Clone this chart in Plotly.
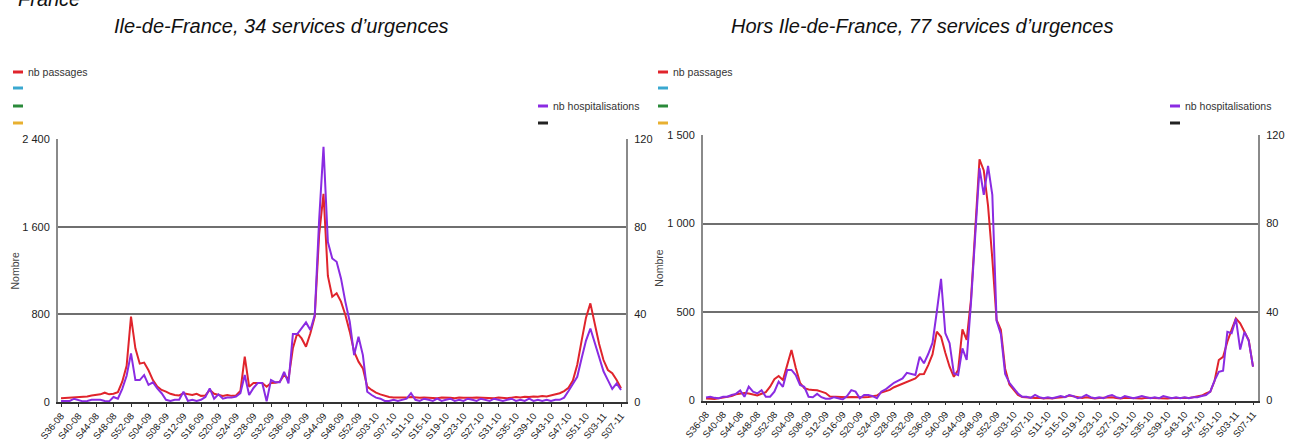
import plotly.graph_objects as go

# ---------------- data ----------------
# weekly categories S36-08 ... S07-11 (2009 has 53 ISO weeks)
weeks = []
for yy, first, last in [(8, 36, 52), (9, 1, 53), (10, 1, 52), (11, 1, 7)]:
    for w in range(first, last + 1):
        weeks.append(f"S{w:02d}-{yy:02d}")

tick_weeks = weeks[::4]

# Ile-de-France, 34 services d'urgences
idf_passages = [
    35, 38, 42, 45, 45, 48, 50, 60, 65, 70,
    85, 70, 75, 90, 185, 330, 780, 490, 350, 360,
    290, 200, 140, 110, 95, 75, 64, 60, 80, 70,
    64, 75, 56, 60, 110, 75, 64, 56, 64, 56,
    60, 100, 415, 140, 173, 173, 173, 140, 173, 175,
    185, 246, 210, 490, 627, 580, 505, 627, 780, 1525,
    1900, 1150, 961, 992, 916, 794, 642, 459, 368, 307,
    140, 110, 85, 70, 55, 45, 42, 40, 38, 40,
    45, 40, 38, 42, 40, 38, 35, 40, 42, 38,
    35, 40, 38, 35, 38, 42, 40, 35, 38, 35,
    40, 38, 35, 40, 45, 42, 48, 45, 50, 48,
    55, 50, 60, 65, 80, 100, 130, 195, 340, 560,
    770, 900, 710, 530, 383, 292, 262, 200, 125,
]
idf_hosp = [
    0.5, 0.5, 0.5, 1.5, 0.8, 0.3, 0.5, 1, 1, 1,
    0.5, 0.3, 2.3, 1.5, 6, 12, 22.2, 10, 10, 12.3,
    7.8, 9, 6.2, 4, 1, 0.5, 1, 1, 4.7, 0.5,
    1, 0.5, 1, 2.3, 6.2, 1.5, 3.5, 1.5, 2, 2,
    2.5, 4, 12.3, 3.2, 6.4, 8.7, 8.7, 0.3, 10, 9,
    9, 13.8, 8.5, 31, 31, 33.6, 36.3, 32.8, 39.7, 83,
    116.4, 73, 65.5, 64, 56.4, 45.7, 36.6, 21.4, 29.8, 21.4,
    4.7, 3.2, 2, 1.5, 0.5, 0.5, 1, 0.5, 1, 1.5,
    4, 1, 0.5, 1.5, 1, 0.5, 1.5, 0.5, 1, 1.5,
    0.5, 1, 0.5, 1.5, 1, 0.5, 1.5, 1, 0.5, 1.5,
    1, 0.5, 1, 1.5, 0.5, 1, 0.5, 1.5, 0.5, 1,
    0.5, 1, 0.5, 1, 1, 2, 5, 8.5, 11.5, 20,
    28, 33.5, 27, 20, 14, 10, 6, 8.5, 5.5,
]

# Hors Ile-de-France, 77 services d'urgences
hors_passages = [
    12, 8, 8, 12, 16, 18, 25, 35, 40, 42,
    40, 35, 28, 38, 47, 78, 120, 138, 116, 200,
    285, 185, 100, 70, 62, 60, 58, 50, 42, 23,
    22, 20, 16, 18, 20, 18, 16, 18, 20, 22,
    28, 45, 52, 60, 75, 85, 97, 108, 116, 125,
    148, 150, 200, 260, 389, 360, 270, 191, 134, 172,
    402, 342, 568, 963, 1363, 1300, 1100, 800, 455, 400,
    180, 90, 60, 31, 20, 18, 15, 14, 16, 12,
    14, 12, 15, 18, 20, 28, 22, 16, 14, 18,
    15, 12, 14, 16, 20, 18, 14, 12, 16, 14,
    12, 14, 12, 15, 14, 12, 15, 14, 12, 14,
    12, 14, 16, 14, 18, 22, 28, 40, 50, 110,
    229, 247, 332, 400, 464, 436, 389, 342, 191,
]
hors_hosp = [
    1.4, 1.7, 1.2, 1, 1.7, 1.7, 2.5, 3, 4.5, 1.7,
    6.3, 4, 3.2, 4.7, 1.7, 1.7, 4, 8.5, 6.2, 13.8,
    13.8, 11.5, 7, 6.2, 1.7, 1.5, 3, 1.5, 0.8, 0.8,
    1.5, 1, 0.5, 2, 4.7, 4, 1, 2.5, 2.5, 2,
    1, 4, 5, 6.5, 8, 9, 10, 12.5, 12, 11.5,
    19.8, 16.8, 21, 26, 40, 55, 30.4, 25.9, 12.3, 11.5,
    23.6, 18.3, 43.9, 77, 105, 93, 106, 93, 36, 30,
    12, 8, 5.5, 3.2, 1.7, 1.7, 1.2, 2.5, 1.5, 1,
    1.5, 1, 1.5, 2, 1.5, 2.5, 2, 1, 1.5, 2.5,
    1.5, 1, 1.5, 1, 2, 2.5, 1.5, 1, 2, 1.5,
    1, 1.5, 2, 1.5, 1, 1.5, 1, 2, 1.5, 1,
    1.5, 1, 1.5, 1, 1.5, 1.5, 2, 2.5, 4, 9,
    13, 13.5, 31, 30.4, 37, 23, 31, 27, 15.3,
]

left_ticks = [0, 800, 1600, 2400]
left_ticktext = ["0", "800", "1 600", "2 400"]
right_ticks = [0, 500, 1000, 1500]
right_ticktext = ["0", "500", "1 000", "1 500"]
hosp_ticks = [0, 40, 80, 120]

titles = ["Ile-de-France, 34 services d\u2019urgences",
          "Hors Ile-de-France, 77 services d\u2019urgences"]

# ---------------- styling ----------------
W, H = 1291, 442
RED = "#e0242c"
PURPLE = "#8a2be2"
FONT = "Liberation Sans, Arial, sans-serif"

# plot-area boxes in pixels (left, right, top, bottom)
BOX_L = (58, 626, 139, 402)
BOX_R = (703, 1258, 135, 400.5)


def px(x):
    return x / W


def py(y):
    return 1 - y / H


fig = go.Figure()

fig.add_trace(go.Scatter(x=weeks, y=idf_passages, xaxis="x", yaxis="y", mode="lines",
                         line=dict(color=RED, width=2), name="nb passages", showlegend=False))
fig.add_trace(go.Scatter(x=weeks, y=idf_hosp, xaxis="x", yaxis="y2", mode="lines",
                         line=dict(color=PURPLE, width=2), name="nb hospitalisations", showlegend=False))
fig.add_trace(go.Scatter(x=weeks, y=hors_passages, xaxis="x2", yaxis="y3", mode="lines",
                         line=dict(color=RED, width=2), name="nb passages", showlegend=False))
fig.add_trace(go.Scatter(x=weeks, y=hors_hosp, xaxis="x2", yaxis="y4", mode="lines",
                         line=dict(color=PURPLE, width=2), name="nb hospitalisations", showlegend=False))

xcommon = dict(type="category", tickmode="array", tickvals=tick_weeks, ticktext=tick_weeks,
               tickangle=-50, tickfont=dict(family=FONT, size=9.5, color="#222"),
               showline=True, linecolor="#333", linewidth=1.5, ticks="outside",
               ticklen=3, tickcolor="#333", showgrid=False, zeroline=False)
ycommon = dict(showgrid=True, gridcolor="#6f6f6f", gridwidth=2, showline=True,
               linecolor="#8a8a8a", linewidth=2, zeroline=False, ticks="",
               tickfont=dict(family=FONT, size=11, color="#222"), ticklabelstandoff=4)
y2common = dict(showgrid=False, showline=True, linecolor="#8a8a8a", linewidth=2,
                zeroline=False, ticks="", tickfont=dict(family=FONT, size=11, color="#222"),
                ticklabelstandoff=4, tickvals=hosp_ticks, range=[0, 120], side="right")


def xr(box):
    # category range so that first week sits ~3px right of the box edge
    ppw = (box[1] - box[0] - 8) / 128.0
    return [-3 / ppw, 128 + 5 / ppw]


fig.update_layout(
    width=W, height=H,
    margin=dict(l=0, r=0, t=0, b=0, pad=0, autoexpand=False),
    paper_bgcolor="white", plot_bgcolor="white",
    showlegend=False,
    xaxis=dict(xcommon, domain=[px(BOX_L[0]), px(BOX_L[1])], anchor="y", range=xr(BOX_L)),
    yaxis=dict(ycommon, domain=[py(BOX_L[3]), py(BOX_L[2])], anchor="x", range=[0, 2400],
               tickvals=left_ticks, ticktext=left_ticktext),
    yaxis2=dict(y2common, overlaying="y", anchor="x"),
    xaxis2=dict(xcommon, domain=[px(BOX_R[0]), px(BOX_R[1])], anchor="y3", range=xr(BOX_R)),
    yaxis3=dict(ycommon, domain=[py(BOX_R[3]), py(BOX_R[2])], anchor="x2", range=[0, 1500],
                tickvals=right_ticks, ticktext=right_ticktext),
    yaxis4=dict(y2common, overlaying="y3", anchor="x2"),
)

annotations = []
shapes = []

# cut-off heading at the very top
annotations.append(dict(text="<i>France</i>", x=px(16), y=py(-1), xref="paper", yref="paper",
                        xanchor="left", yanchor="middle", showarrow=False,
                        font=dict(family=FONT, size=20, color="#111")))
# panel titles
for tx, t in zip([112, 729], titles):
    annotations.append(dict(text=f"<i>{t}</i>", x=px(tx), y=py(26), xref="paper", yref="paper",
                            xanchor="left", yanchor="middle", showarrow=False,
                            font=dict(family=FONT, size=20, color="#111")))

legend_left = [(RED, "nb passages", 72), ("#3aa8d0", "", 88), ("#2a8a3a", "", 106), ("#e8b030", "", 123)]
legend_right = [(PURPLE, "nb hospitalisations", 106), ("#222222", "", 123)]

for box in (BOX_L, BOX_R):
    l, r = box[0], box[1]
    for col, lab, yy in legend_left:
        shapes.append(dict(type="line", xref="paper", yref="paper",
                           x0=px(l - 45), x1=px(l - 35), y0=py(yy), y1=py(yy),
                           line=dict(color=col, width=3)))
        if lab:
            annotations.append(dict(text=lab, x=px(l - 32), y=py(yy), xref="paper", yref="paper",
                                    xanchor="left", yanchor="middle", showarrow=False,
                                    font=dict(family=FONT, size=10.5, color="#333")))
    for col, lab, yy in legend_right:
        shapes.append(dict(type="line", xref="paper", yref="paper",
                           x0=px(r - 88), x1=px(r - 78), y0=py(yy), y1=py(yy),
                           line=dict(color=col, width=3)))
        if lab:
            annotations.append(dict(text=lab, x=px(r - 75), y=py(yy), xref="paper", yref="paper",
                                    xanchor="left", yanchor="middle", showarrow=False,
                                    font=dict(family=FONT, size=10.5, color="#333")))
    annotations.append(dict(text="Nombre", x=px(l - 44), y=py((box[2] + box[3]) / 2), xref="paper",
                            yref="paper", xanchor="center", yanchor="middle", showarrow=False,
                            textangle=-90, font=dict(family=FONT, size=10.5, color="#444")))

fig.update_layout(annotations=annotations, shapes=shapes)

fig.write_html("out.html", config={"displayModeBar": False},
               post_script="document.body.style.margin='0px';")
